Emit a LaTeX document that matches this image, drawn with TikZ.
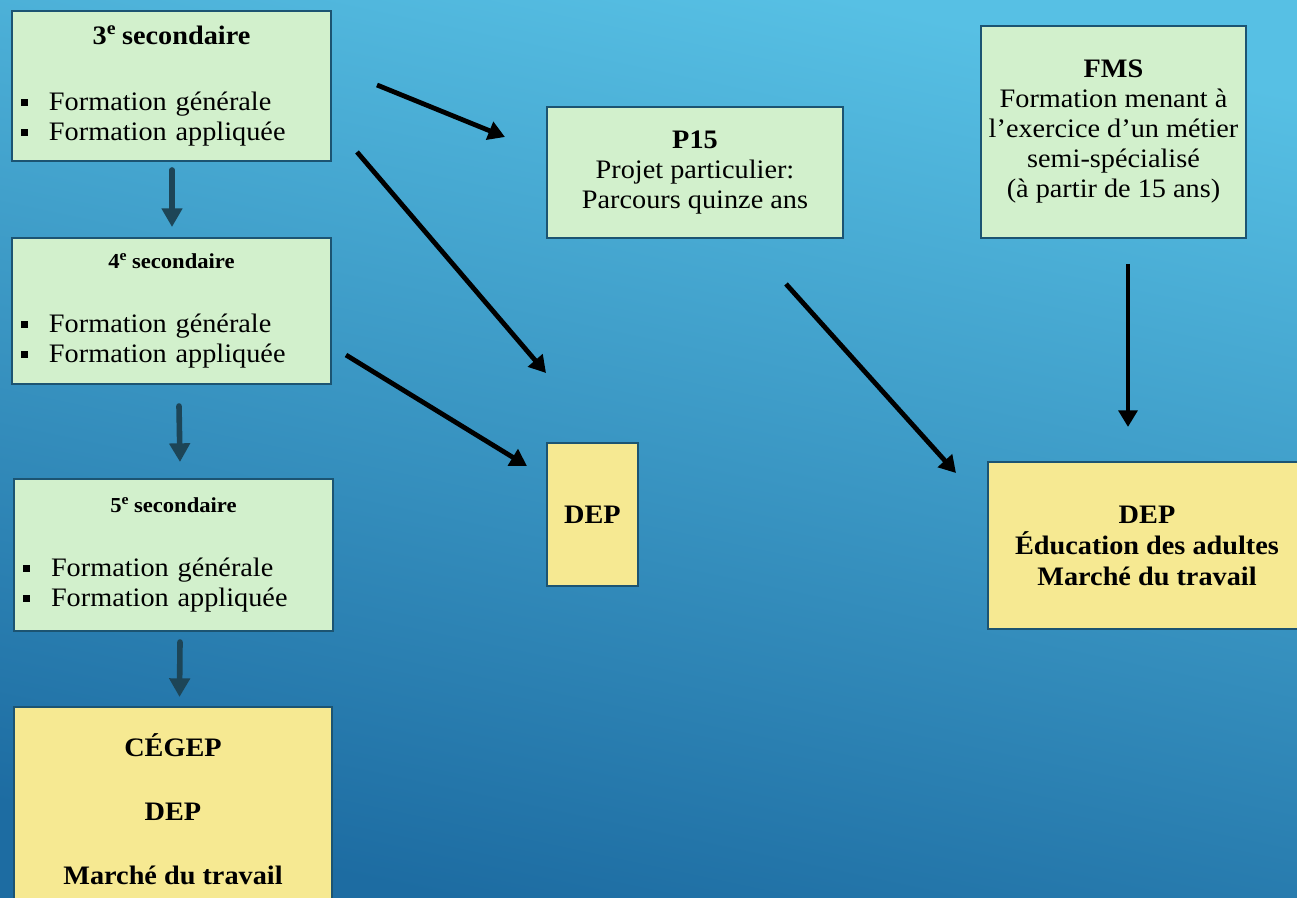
\documentclass[tikz,border=0pt]{standalone}
\usepackage{fontspec}
\setmainfont[FakeStretch=1.06]{Liberation Serif}
\usetikzlibrary{arrows.meta}

\definecolor{vertpale}{HTML}{D2F0CC}
\definecolor{jaunepale}{HTML}{F6E992}
\definecolor{bordure}{HTML}{1C5472}
\definecolor{flechefonce}{HTML}{1D4557}
\definecolor{fondhaut}{HTML}{57C0E4}
\definecolor{fondbas}{HTML}{1D6CA2}

% puce carree des listes
\newcommand{\puce}[1]{\makebox[239.25pt][l]{\hspace{6.75pt}\rule[3.5pt]{5.5pt}{5.5pt}\hspace{15.5pt}#1}}

\begin{document}
\begin{tikzpicture}[
  x=0.75pt, y=-0.75pt,
  boite/.style={draw=bordure, line width=1.5pt, anchor=north west, align=center, font=\fontsize{20}{22.5}\selectfont},
  vert/.style={boite, fill=vertpale},
  jaune/.style={boite, fill=jaunepale, font=\fontsize{20}{23.25}\selectfont\bfseries},
  niveau/.style={vert, inner xsep=0pt, text width=239.25pt, minimum height=#1},
  fleche/.style={-{Triangle[width=14pt,length=12.5pt]}, line width=3.6pt},
  suite/.style={-{Triangle[width=15pt,length=14pt]}, line width=4.2pt, line cap=round, draw=flechefonce}
]
\useasboundingbox (0,0) rectangle (1297,898);
\shade[top color=fondhaut, bottom color=fondbas, shading angle=-12] (0,0) rectangle (1297,898);

% colonne de gauche
\node[niveau=112.5pt] (sec3) at (11,10) {{\bfseries 3\textsuperscript{e}\hspace{0.22em}secondaire}\\[27pt]\puce{Formation générale}\\\puce{Formation appliquée}};
\node[niveau=109.5pt] (sec4) at (11,237) {{\fontsize{16}{18}\selectfont\bfseries 4\textsuperscript{e}\hspace{0.22em}secondaire}\\[25.5pt]\puce{Formation générale}\\\puce{Formation appliquée}};
\node[niveau=114pt] (sec5) at (13,478) {{\fontsize{16}{18}\selectfont\bfseries 5\textsuperscript{e}\hspace{0.22em}secondaire}\\[25.5pt]\puce{Formation générale}\\\puce{Formation appliquée}};
\node[jaune, minimum width=238.5pt, minimum height=153pt] (cegep) at (13,706) {CÉGEP\\[24.75pt]DEP\\[24.75pt]Marché du travail};

% parcours
\node[vert, minimum width=222pt, minimum height=98.25pt] (p15) at (546,106) {\textbf{P15}\\Projet particulier:\\Parcours quinze ans};
\node[vert, minimum width=198.75pt, minimum height=159pt] (fms) at (980,25) {\textbf{FMS}\\Formation menant à\\l’exercice d’un métier\\semi-spécialisé\\(à partir de 15 ans)};
\node[jaune, minimum width=68.25pt, minimum height=107.25pt] (depa) at (546,442) {DEP};
\node[jaune, minimum width=238.5pt, minimum height=125.25pt] (depb) at (987,461) {DEP\\Éducation des adultes\\Marché du travail};

% passage d'une annee a l'autre
\draw[suite] ([shift={(0.5,8)}]sec3.south) -- ([shift={(0.5,-10)}]sec4.north);
\draw[suite] ([shift={(7.5,21)}]sec4.south) -- ([shift={(6.5,-16)}]sec5.north);
\draw[suite] ([shift={(6.5,10)}]sec5.south) -- ([shift={(6.5,-9)}]cegep.north);

% autres voies
\draw[fleche] ([shift={(45,75)}]sec3.north east) -- ([shift={(-41,31)}]p15.north west);
\draw[fleche] ([shift={(25,-10)}]sec3.south east) -- ([shift={(0,-69)}]depa.north west);
\draw[fleche] ([shift={(14,-30)}]sec4.south east) -- ([shift={(-19,24)}]depa.north west);
\draw[fleche] ([shift={(91,45)}]p15.south) -- ([shift={(-31,12)}]depb.north west);
\draw[fleche] ([shift={(14.5,25)}]fms.south) -- ([shift={(-19,-34)}]depb.north);
\end{tikzpicture}
\end{document}
